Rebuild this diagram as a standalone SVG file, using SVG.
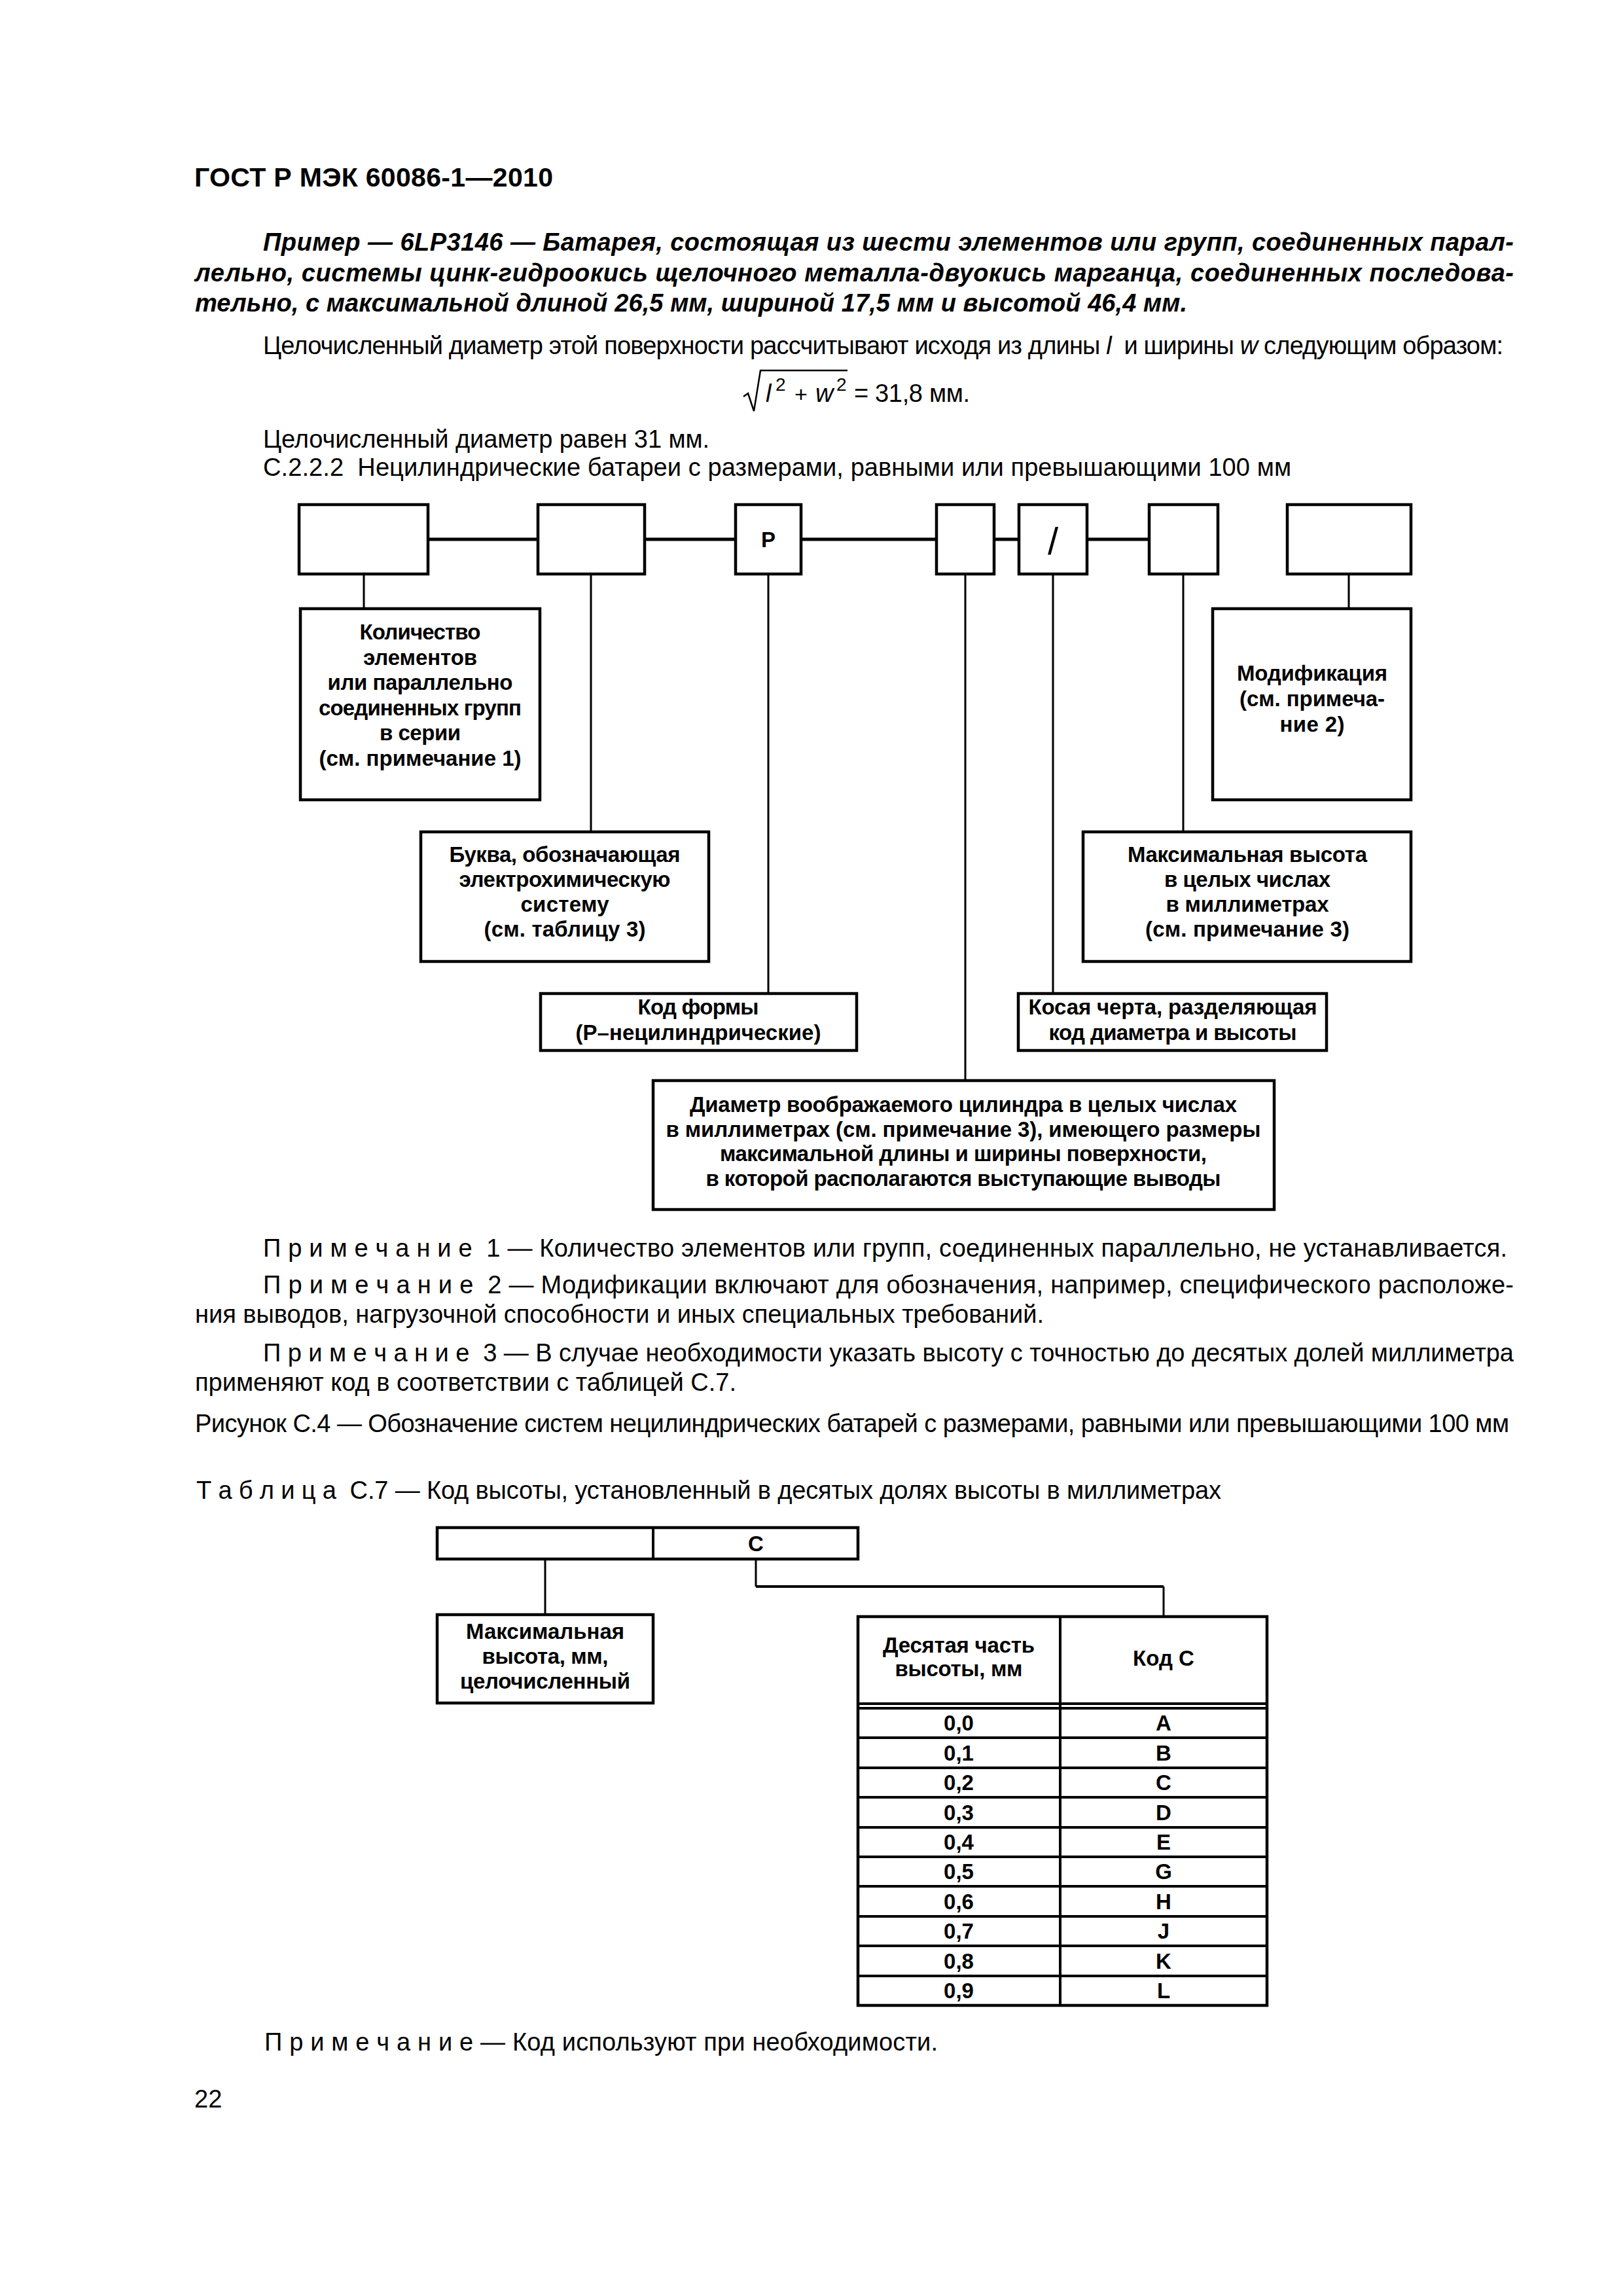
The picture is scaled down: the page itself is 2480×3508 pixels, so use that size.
<svg xmlns="http://www.w3.org/2000/svg" width="2480" height="3508" viewBox="0 0 2480 3508">
<style>
text{font-family:"Liberation Sans",Arial,"DejaVu Sans",sans-serif;fill:#000}
.h{font-size:41px;font-weight:bold}
.ex{font-size:38px;font-weight:bold;font-style:italic}
.tx{font-size:38px}
.lb{font-size:33px;font-weight:bold;text-anchor:middle}
.td{font-size:33px;font-weight:bold;text-anchor:middle}
.bx{fill:#fff;stroke:#000;stroke-width:4.5}
.ln{fill:none;stroke:#000;stroke-width:3}
.hl{fill:none;stroke:#000;stroke-width:5}
.tl{fill:none;stroke:#000;stroke-width:4}
</style>
<rect width="2480" height="3508" fill="#fff"/>

<g id="page-text">
<text class="h" x="297" y="285" textLength="548" lengthAdjust="spacing">ГОСТ Р МЭК 60086-1—2010</text>
<text class="ex" x="402" y="383" textLength="1911" lengthAdjust="spacing">Пример — 6LP3146 — Батарея, состоящая из шести элементов или групп, соединенных парал-</text>
<text class="ex" x="298" y="430" textLength="2015" lengthAdjust="spacing">лельно, системы цинк-гидроокись щелочного металла-двуокись марганца, соединенных последова-</text>
<text class="ex" x="298" y="476" textLength="1516" lengthAdjust="spacing">тельно, с максимальной длиной 26,5 мм, шириной 17,5 мм и высотой 46,4 мм.</text>
<text class="tx" x="402" y="541" textLength="1895" lengthAdjust="spacing" xml:space="preserve">Целочисленный диаметр этой поверхности рассчитывают исходя из длины <tspan font-style="italic">l</tspan>  и ширины <tspan font-style="italic">w</tspan> следующим образом:</text>
<g id="formula">
<path d="M1136,606 L1143,601 L1152,628 L1162,566 L1295,566" fill="none" stroke="#000" stroke-width="2.5"/>
<text class="tx" x="1170" y="614" font-style="italic">l</text>
<text x="1185" y="597" font-size="28">2</text>
<text x="1214" y="614" font-size="34">+</text>
<text class="tx" x="1246" y="614" font-style="italic">w</text>
<text x="1278" y="597" font-size="28">2</text>
<text class="tx" x="1305" y="614" textLength="177" lengthAdjust="spacing">= 31,8 мм.</text>
</g>
<text class="tx" x="402" y="684" textLength="682" lengthAdjust="spacing">Целочисленный диаметр равен 31 мм.</text>
<text class="tx" x="402" y="727" textLength="1571" lengthAdjust="spacing" xml:space="preserve">С.2.2.2  Нецилиндрические батареи с размерами, равными или превышающими 100 мм</text>
</g>

<g id="connectors">
<path class="hl" d="M654,824 H822 M985,824 H1124 M1224,824 H1431 M1519,824 H1557 M1661,824 H1756"/>
<path class="ln" d="M556,877 V930 M903,877 V1271 M1174,877 V1518 M1475,877 V1651 M1609,877 V1518 M1808,877 V1271 M2061,877 V930"/>
<path class="ln" d="M833,2382 V2467 M1155,2382 V2424 M1778,2424 V2470"/>
<path class="tl" d="M1155,2424 H1778"/>
</g>

<g id="n-count-code"><rect class="bx" x="457" y="771" width="197" height="106"/></g>
<g id="n-system-code"><rect class="bx" x="822" y="771" width="163" height="106"/></g>
<g id="n-shape-code"><rect class="bx" x="1124" y="771" width="100" height="106"/><text class="lb" x="1174" y="836" font-size="34">P</text></g>
<g id="n-diameter-code"><rect class="bx" x="1431" y="771" width="88" height="106"/></g>
<g id="n-slash-code"><rect class="bx" x="1557" y="771" width="104" height="106"/><text x="1609" y="847" font-size="58" text-anchor="middle">/</text></g>
<g id="n-height-code"><rect class="bx" x="1756" y="771" width="105" height="106"/></g>
<g id="n-mod-code"><rect class="bx" x="1967" y="771" width="189" height="106"/></g>

<g id="n-count">
<rect class="bx" x="459" y="930" width="366" height="292"/>
<text class="lb" x="642" y="977" textLength="185" lengthAdjust="spacing">Количество</text>
<text class="lb" x="642" y="1016" textLength="174" lengthAdjust="spacing">элементов</text>
<text class="lb" x="642" y="1054" textLength="283" lengthAdjust="spacing">или параллельно</text>
<text class="lb" x="642" y="1093" textLength="310" lengthAdjust="spacing">соединенных групп</text>
<text class="lb" x="642" y="1131" textLength="124" lengthAdjust="spacing">в серии</text>
<text class="lb" x="642" y="1170" textLength="309" lengthAdjust="spacing">(см. примечание 1)</text>
</g>

<g id="n-mod">
<rect class="bx" x="1853" y="930" width="303" height="292"/>
<text class="lb" x="2005" y="1040" textLength="230" lengthAdjust="spacing">Модификация</text>
<text class="lb" x="2005" y="1079" textLength="222" lengthAdjust="spacing">(см. примеча-</text>
<text class="lb" x="2005" y="1118" textLength="99" lengthAdjust="spacing">ние 2)</text>
</g>

<g id="n-system">
<rect class="bx" x="643" y="1271" width="440" height="198"/>
<text class="lb" x="863" y="1317" textLength="353" lengthAdjust="spacing">Буква, обозначающая</text>
<text class="lb" x="863" y="1355" textLength="323" lengthAdjust="spacing">электрохимическую</text>
<text class="lb" x="863" y="1393" textLength="135" lengthAdjust="spacing">систему</text>
<text class="lb" x="863" y="1431" textLength="247" lengthAdjust="spacing">(см. таблицу 3)</text>
</g>

<g id="n-height">
<rect class="bx" x="1655" y="1271" width="501" height="198"/>
<text class="lb" x="1906" y="1317" textLength="366" lengthAdjust="spacing">Максимальная высота</text>
<text class="lb" x="1906" y="1355" textLength="254" lengthAdjust="spacing">в целых числах</text>
<text class="lb" x="1906" y="1393" textLength="249" lengthAdjust="spacing">в миллиметрах</text>
<text class="lb" x="1906" y="1431" textLength="312" lengthAdjust="spacing">(см. примечание 3)</text>
</g>

<g id="n-shape">
<rect class="bx" x="826" y="1518" width="483" height="87"/>
<text class="lb" x="1067" y="1550" textLength="185" lengthAdjust="spacing">Код формы</text>
<text class="lb" x="1067" y="1589" textLength="375" lengthAdjust="spacing">(P–нецилиндрические)</text>
</g>

<g id="n-slash">
<rect class="bx" x="1556" y="1518" width="471" height="87"/>
<text class="lb" x="1792" y="1550" textLength="441" lengthAdjust="spacing">Косая черта, разделяющая</text>
<text class="lb" x="1792" y="1589" textLength="379" lengthAdjust="spacing">код диаметра и высоты</text>
</g>

<g id="n-diameter">
<rect class="bx" x="998" y="1651" width="949" height="197"/>
<text class="lb" x="1472" y="1699" textLength="836" lengthAdjust="spacing">Диаметр воображаемого цилиндра в целых числах</text>
<text class="lb" x="1472" y="1737" textLength="909" lengthAdjust="spacing">в миллиметрах (см. примечание 3), имеющего размеры</text>
<text class="lb" x="1472" y="1774" textLength="744" lengthAdjust="spacing">максимальной длины и ширины поверхности,</text>
<text class="lb" x="1472" y="1812" textLength="787" lengthAdjust="spacing">в которой располагаются выступающие выводы</text>
</g>

<g id="notes">
<text class="tx" x="402" y="1920" textLength="1901" lengthAdjust="spacing" xml:space="preserve">П р и м е ч а н и е  1 — Количество элементов или групп, соединенных параллельно, не устанавливается.</text>
<text class="tx" x="402" y="1976" textLength="1911" lengthAdjust="spacing" xml:space="preserve">П р и м е ч а н и е  2 — Модификации включают для обозначения, например, специфического расположе-</text>
<text class="tx" x="298" y="2021" textLength="1297" lengthAdjust="spacing">ния выводов, нагрузочной способности и иных специальных требований.</text>
<text class="tx" x="402" y="2080" textLength="1911" lengthAdjust="spacing" xml:space="preserve">П р и м е ч а н и е  3 — В случае необходимости указать высоту с точностью до десятых долей миллиметра</text>
<text class="tx" x="298" y="2125" textLength="827" lengthAdjust="spacing">применяют код в соответствии с таблицей С.7.</text>
<text class="tx" x="298" y="2188" textLength="2008" lengthAdjust="spacing">Рисунок С.4 — Обозначение систем нецилиндрических батарей с размерами, равными или превышающими 100 мм</text>
<text class="tx" x="300" y="2290" textLength="1566" lengthAdjust="spacing" xml:space="preserve">Т а б л и ц а  С.7 — Код высоты, установленный в десятых долях высоты в миллиметрах</text>
</g>

<g id="n-c7-code">
<rect class="bx" x="668" y="2334" width="643" height="48"/>
<line class="tl" x1="998" y1="2334" x2="998" y2="2382"/>
<text class="td" x="1155" y="2370">C</text>
</g>

<g id="n-c7-maxheight">
<rect class="bx" x="668" y="2467" width="330" height="135"/>
<text class="lb" x="833" y="2504" textLength="242" lengthAdjust="spacing">Максимальная</text>
<text class="lb" x="833" y="2542" textLength="193" lengthAdjust="spacing">высота, мм,</text>
<text class="lb" x="833" y="2580" textLength="260" lengthAdjust="spacing">целочисленный</text>
</g>

<g id="n-c7-table">
<rect class="bx" x="1311" y="2470" width="625" height="594" fill="none"/>
<path class="tl" d="M1620,2470 V3064 M1311,2603 H1936 M1311,2610 H1936 M1311,2655 H1936 M1311,2701 H1936 M1311,2746 H1936 M1311,2792 H1936 M1311,2837 H1936 M1311,2882 H1936 M1311,2928 H1936 M1311,2973 H1936 M1311,3019 H1936"/>
<text class="td" x="1465" y="2525" textLength="232" lengthAdjust="spacing">Десятая часть</text>
<text class="td" x="1465" y="2561" textLength="195" lengthAdjust="spacing">высоты, мм</text>
<text class="td" x="1778" y="2545">Код С</text>
<text class="td" x="1465" y="2644">0,0</text><text class="td" x="1778" y="2644">A</text>
<text class="td" x="1465" y="2690">0,1</text><text class="td" x="1778" y="2690">B</text>
<text class="td" x="1465" y="2735">0,2</text><text class="td" x="1778" y="2735">C</text>
<text class="td" x="1465" y="2781">0,3</text><text class="td" x="1778" y="2781">D</text>
<text class="td" x="1465" y="2826">0,4</text><text class="td" x="1778" y="2826">E</text>
<text class="td" x="1465" y="2871">0,5</text><text class="td" x="1778" y="2871">G</text>
<text class="td" x="1465" y="2917">0,6</text><text class="td" x="1778" y="2917">H</text>
<text class="td" x="1465" y="2962">0,7</text><text class="td" x="1778" y="2962">J</text>
<text class="td" x="1465" y="3008">0,8</text><text class="td" x="1778" y="3008">K</text>
<text class="td" x="1465" y="3053">0,9</text><text class="td" x="1778" y="3053">L</text>
</g>

<g id="footer">
<text class="tx" x="404" y="3133" textLength="1029" lengthAdjust="spacing" xml:space="preserve">П р и м е ч а н и е — Код используют при необходимости.</text>
<text class="tx" x="297" y="3220">22</text>
</g>
</svg>
